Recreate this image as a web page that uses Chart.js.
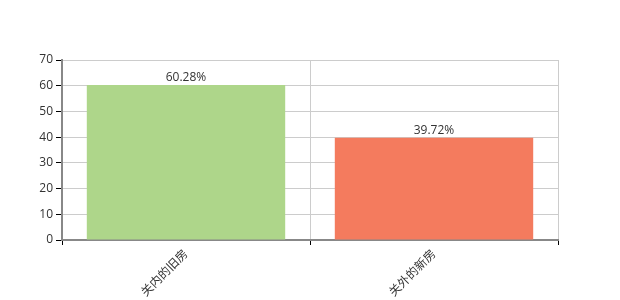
<!DOCTYPE html>
<html>
<head>
<meta charset="utf-8">
<script src="https://cdn.jsdelivr.net/npm/chart.js"></script>
<style>
  body { margin: 0; background: #fff; }
</style>
</head>
<body>
<canvas id="myChart" width="620" height="300"></canvas>
<script>
const categories = ['关内的旧房', '关外的新房'];
const shares = [60.28, 39.72];
const barColors = ['#aed68a', '#f47b5e'];
const yTicks = [0, 10, 20, 30, 40, 50, 60, 70];

const fontFamily = '"Open Sans", "Noto Sans CJK SC", sans-serif';

// labels above each bar
const valueLabels = {
  id: 'valueLabels',
  afterDatasetsDraw(chart) {
    const ctx = chart.ctx;
    const meta = chart.getDatasetMeta(0);
    ctx.save();
    ctx.font = '12px ' + fontFamily;
    ctx.fillStyle = '#333';
    ctx.textAlign = 'center';
    ctx.textBaseline = 'bottom';
    meta.data.forEach((bar, i) => {
      ctx.fillText(shares[i].toFixed(2) + '%', bar.x, bar.y - 1.5);
    });
    ctx.restore();
  }
};

const ctx = document.getElementById('myChart');
new Chart(ctx, {
  type: 'bar',
  data: {
    labels: categories,
    datasets: [{
      data: shares,
      backgroundColor: barColors,
      barPercentage: 0.8,
      categoryPercentage: 1
    }]
  },
  options: {
    responsive: false,
    animation: false,
    layout: { padding: { top: 60, right: 62, left: 0, bottom: 0 } },
    plugins: {
      legend: { display: false },
      tooltip: { enabled: false }
    },
    scales: {
      x: {
        grid: { color: '#ccc', tickColor: '#000', tickLength: 5, offset: true },
        border: { color: '#888', width: 2 },
        ticks: {
          color: '#333',
          font: { size: 12, family: fontFamily },
          minRotation: 45,
          maxRotation: 45,
          padding: 2
        },
        afterFit(scale) { scale.height = 60; }
      },
      y: {
        min: 0,
        max: 70,
        afterBuildTicks(scale) { scale.ticks = yTicks.map(v => ({ value: v })); },
        grid: { color: '#ccc', tickColor: '#000', tickLength: 6 },
        border: { color: '#888', width: 2 },
        ticks: {
          color: '#333',
          font: { size: 12, family: fontFamily },
          padding: 3
        },
        afterFit(scale) { scale.width = 62; }
      }
    }
  },
  plugins: [valueLabels]
});
</script>
</body>
</html>
